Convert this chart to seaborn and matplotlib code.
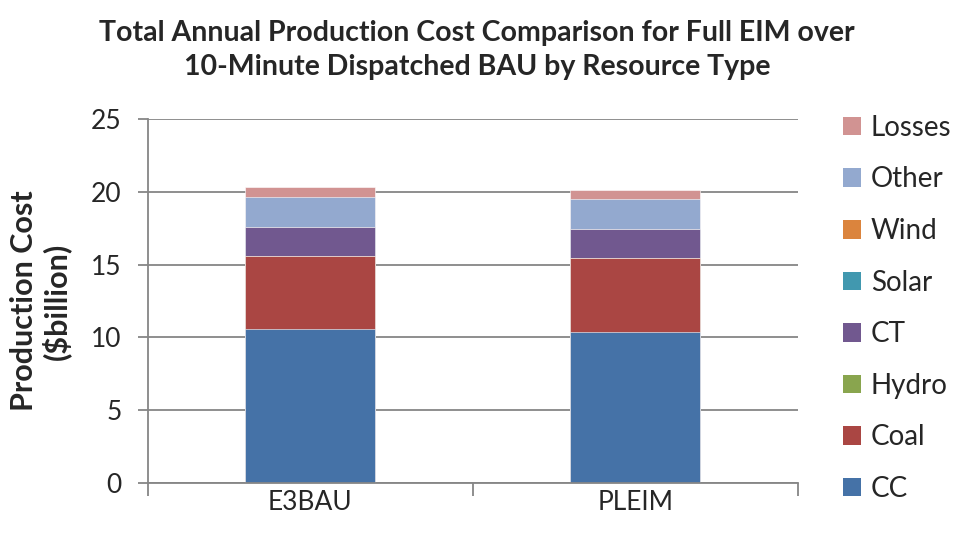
import matplotlib
matplotlib.use("Agg")
import matplotlib.pyplot as plt
from matplotlib.patches import Patch
import seaborn as sns
import pandas as pd
import numpy as np

scenarios = ["E3BAU", "PLEIM"]
resources = ["CC", "Coal", "Hydro", "CT", "Solar", "Wind", "Other", "Losses"]
cc = [10.56, 10.35]
coal = [5.01, 5.08]
hydro = [0.0, 0.0]
ct = [2.04, 2.04]
solar = [0.0, 0.0]
wind = [0.0, 0.0]
other = [2.06, 2.04]
losses = [0.64, 0.61]
colors = ["#4572A7", "#AA4643", "#89A54E", "#71588F",
          "#4198AF", "#DB843D", "#93A9CF", "#D19392"]
yticks = [0, 5, 10, 15, 20, 25]

sns.set_theme(style="white")
plt.rcParams["font.family"] = ["Lato", "DejaVu Sans"]

df = pd.DataFrame({"Scenario": scenarios, "CC": cc, "Coal": coal, "Hydro": hydro,
                   "CT": ct, "Solar": solar, "Wind": wind, "Other": other,
                   "Losses": losses})
long = df.melt(id_vars="Scenario", var_name="Resource", value_name="Cost")

fig = plt.figure(figsize=(9.54, 5.35), dpi=100)
ax = fig.add_axes([0.155, 0.0972, 0.6815, 0.6804])

# cumulative stack heights, one row per resource
seg = np.array([long[long["Resource"] == r].set_index("Scenario").loc[scenarios, "Cost"].values
                for r in resources])
cum = np.cumsum(seg, axis=0)

# draw tallest cumulative bar first so each lower segment overlays it
for i in range(len(resources) - 1, -1, -1):
    sub = pd.DataFrame({"Scenario": scenarios, "Cost": cum[i]})
    sns.barplot(data=sub, x="Scenario", y="Cost", color=colors[i], width=0.4,
                saturation=1, ax=ax, edgecolor="white", linewidth=0.4, zorder=2)

ax.set_xlim(-0.5, 1.5)
ax.set_ylim(0, 25)
ax.set_yticks(yticks)
ax.set_yticklabels([str(t) for t in yticks], fontsize=19)
ax.yaxis.grid(True, color="#868686", linewidth=1.3, zorder=0)
ax.set_axisbelow(True)
ax.set_xlabel("")
ax.set_ylabel("Production Cost\n($billion)", fontsize=22, fontweight="bold", labelpad=14,
              linespacing=1.15)
ax.tick_params(axis="x", labelsize=19, length=0, pad=5)
ax.tick_params(axis="y", left=True, length=7, color="#868686", width=1.3, pad=12)

# category boundary ticks along the x-axis
ax.set_xticks([-0.5, 0.5, 1.5], minor=True)
ax.tick_params(axis="x", which="minor", bottom=True, length=9, color="#868686", width=1.3)

for side in ["top", "right"]:
    ax.spines[side].set_visible(False)
for side in ["left", "bottom"]:
    ax.spines[side].set_color("#868686")
    ax.spines[side].set_linewidth(1.3)

handles = [Patch(facecolor=c, edgecolor="none") for c in colors][::-1]
labels = resources[::-1]
fig.legend(handles, labels, loc="upper left", bbox_to_anchor=(0.872, 0.806),
           frameon=False, fontsize=20, handlelength=0.65, handleheight=0.65,
           handletextpad=0.35, labelspacing=0.92, borderaxespad=0)

fig.suptitle("Total Annual Production Cost Comparison for Full EIM over\n"
             "10-Minute Dispatched BAU by Resource Type",
             x=0.5, y=0.962, fontsize=20.5, fontweight="bold", linespacing=1.35)

fig.savefig("out.png", dpi=100)
